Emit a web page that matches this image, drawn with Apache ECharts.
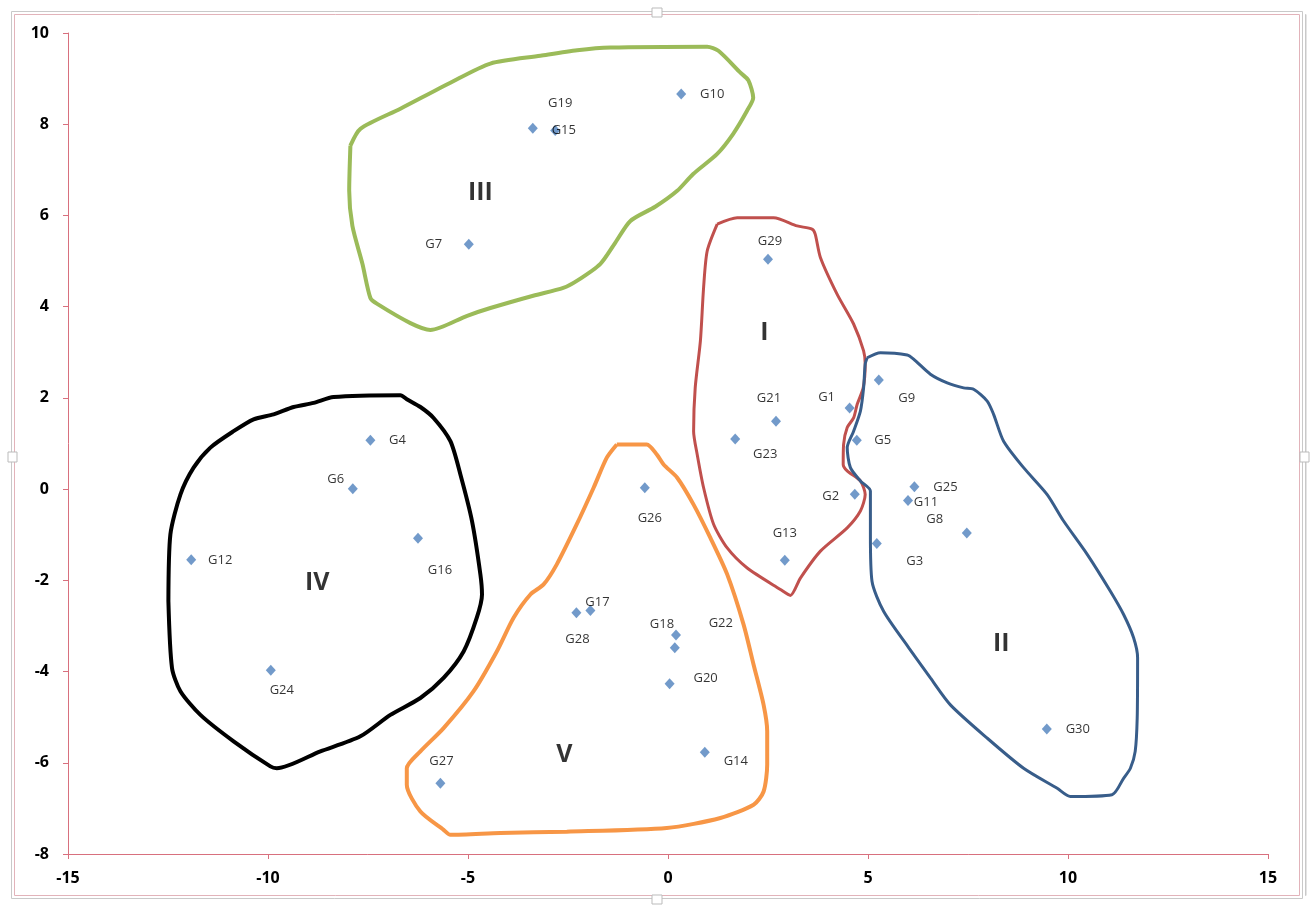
<!DOCTYPE html>
<html>
<head>
<meta charset="utf-8">
<script src="https://cdn.jsdelivr.net/npm/echarts@6/dist/echarts.min.js"></script>
<style>
  html,body{margin:0;padding:0;background:#fff;}
  #main{width:1316px;height:906px;}
</style>
</head>
<body>
<div id="main"></div>
<script>
// point names and coordinates
const names = ['G1','G2','G3','G4','G5','G6','G7','G8','G9','G10',
  'G11','G12','G13','G14','G15','G16','G17','G18','G19','G20',
  'G21','G22','G23','G24','G25','G26','G27','G28','G29','G30'];
const xs = [4.54, 4.67, 5.22, -7.44, 4.72, -7.88, -4.98, 7.47, 5.27, 0.33,
  6.0, -11.92, 2.92, 0.92, -3.38, -6.25, -1.94, 0.2, -2.82, 0.04,
  2.7, 0.17, 1.68, -9.93, 6.16, -0.58, -5.69, -2.29, 2.5, 9.47];
const ys = [1.78, -0.11, -1.19, 1.07, 1.07, 0.01, 5.37, -0.96, 2.39, 8.66,
  -0.25, -1.55, -1.56, -5.77, 7.91, -1.08, -2.66, -3.2, 7.86, -4.27,
  1.49, -3.48, 1.1, -3.97, 0.05, 0.03, -6.45, -2.71, 5.04, -5.26];

// cluster names and where their numerals sit
const groupNames = ['I','II','III','IV','V'];
const groupX = [2.41, 8.33, -4.69, -8.77, -2.59];
const groupY = [3.42, -3.4, 6.5, -2.06, -5.82];

// hand-drawn cluster outlines (data units)
const outlineI = [[1.23,5.81],[1.73,5.95],[2.64,5.95],[3.23,5.77],[3.6,5.7],[3.68,5.59],[3.81,5.08],[4.23,4.27],[4.64,3.62],[4.89,3.03],[4.93,2.74],[4.88,2.22],[4.73,1.86],[4.64,1.56],[4.48,1.35],[4.39,0.98],[4.38,0.54],[4.48,0.4],[4.81,0.18],[4.93,-0.12],[4.81,-0.48],[4.48,-0.85],[3.81,-1.36],[3.31,-1.95],[3.06,-2.33],[2.81,-2.2],[1.98,-1.73],[1.48,-1.29],[1.14,-0.77],[0.89,0.03],[0.73,0.76],[0.64,1.27],[0.68,2.22],[0.81,3.25],[0.89,4.42],[0.98,5.22],[1.23,5.81]];
const outlineII = [[4.98,2.88],[5.31,2.99],[5.98,2.94],[6.14,2.85],[6.56,2.52],[6.98,2.33],[7.39,2.22],[7.64,2.19],[7.98,1.93],[8.14,1.64],[8.39,1.05],[8.89,0.47],[9.48,-0.12],[9.89,-0.7],[10.48,-1.43],[11.06,-2.24],[11.39,-2.75],[11.64,-3.26],[11.74,-3.7],[11.73,-5.02],[11.68,-5.75],[11.56,-6.12],[11.39,-6.34],[11.1,-6.7],[10.06,-6.74],[9.73,-6.56],[8.89,-6.12],[7.98,-5.46],[7.06,-4.73],[6.56,-4.14],[6.02,-3.48],[5.39,-2.68],[5.1,-2.02],[5.06,-0.99],[5.06,-0.04],[4.81,0.18],[4.56,0.47],[4.48,0.91],[4.64,1.27],[4.81,1.71],[4.89,2.22],[4.93,2.74],[4.98,2.88]];
const outlineIII = [[-7.94,7.53],[-7.69,7.9],[-6.69,8.34],[-5.44,8.91],[-4.44,9.33],[-3.19,9.5],[-2.27,9.62],[-1.44,9.68],[0.98,9.7],[1.26,9.61],[1.81,9.13],[2.01,8.96],[2.13,8.58],[1.98,8.3],[1.63,7.79],[1.23,7.35],[0.63,6.91],[0.23,6.54],[-0.32,6.19],[-0.94,5.88],[-1.32,5.4],[-1.69,4.94],[-2.27,4.57],[-2.62,4.41],[-3.37,4.24],[-4.44,3.97],[-5.02,3.8],[-5.94,3.49],[-6.44,3.64],[-7.27,4.06],[-7.44,4.19],[-7.64,4.94],[-7.89,5.77],[-7.97,6.54],[-7.94,7.53]];
const outlineIV = [[-12.49,-2.46],[-12.44,-0.99],[-12.19,-0.12],[-11.86,0.47],[-11.44,0.91],[-10.86,1.27],[-10.36,1.53],[-9.86,1.64],[-9.36,1.8],[-8.86,1.89],[-8.36,2.02],[-6.69,2.06],[-6.53,1.97],[-6.19,1.8],[-5.86,1.56],[-5.44,1.05],[-5.19,0.32],[-4.9,-0.7],[-4.69,-1.87],[-4.65,-2.31],[-4.78,-2.82],[-5.11,-3.56],[-5.61,-4.14],[-6.19,-4.58],[-6.94,-4.95],[-7.69,-5.42],[-8.69,-5.75],[-9.78,-6.12],[-9.94,-6.08],[-10.86,-5.53],[-11.69,-4.95],[-12.19,-4.43],[-12.4,-3.92],[-12.49,-2.46]];
const outlineV = [[-1.28,0.98],[-0.53,0.98],[-0.28,0.76],[-0.11,0.54],[0.23,0.25],[0.64,-0.34],[1.06,-1.07],[1.48,-1.87],[1.89,-2.97],[2.14,-3.85],[2.39,-4.73],[2.48,-5.31],[2.48,-6.04],[2.39,-6.63],[2.14,-6.92],[1.31,-7.21],[-0.03,-7.43],[-2.53,-7.51],[-4.19,-7.54],[-5.44,-7.58],[-5.61,-7.47],[-6.19,-7.07],[-6.53,-6.48],[-6.53,-6.12],[-6.19,-5.75],[-5.61,-5.24],[-4.86,-4.43],[-4.28,-3.56],[-3.86,-2.82],[-3.44,-2.31],[-3.11,-2.09],[-2.78,-1.65],[-2.28,-0.77],[-1.86,0.03],[-1.53,0.69],[-1.28,0.98]];

// label offsets in pixels from each diamond
const labelOffset = {
  G1:[-23,-11], G2:[-24,2], G3:[38,18], G4:[27,0], G5:[26,0], G6:[-17,-9],
  G7:[-35,0], G8:[-32,-14], G9:[28,18], G10:[31,0], G11:[18,2], G12:[29,0],
  G13:[0,-27], G14:[31,9], G15:[31,2], G16:[22,32], G17:[7,-8], G18:[-14,-11],
  G19:[5,-27], G20:[36,-6], G21:[-7,-23], G22:[46,-25], G23:[30,15], G24:[11,20],
  G25:[31,0], G26:[5,31], G27:[1,-22], G28:[1,27], G29:[2,-18], G30:[31,0]
};

const chart = echarts.init(document.getElementById('main'), null, {renderer:'canvas'});
const axisRed = '#d8707e';
const font = '"Open Sans", Lato, sans-serif';

function outline(data, color, width){
  return {
    type:'line', data:data, symbol:'none', smooth:0.25, silent:true,
    lineStyle:{color:color, width:width}, z:2
  };
}

const points = names.map(function(n,i){
  return {
    name:n, value:[xs[i], ys[i]],
    label:{offset:labelOffset[n]}
  };
});

const option = {
  animation:false,
  backgroundColor:'#fff',
  grid:{left:68, right:48, top:33, bottom:52},
  xAxis:{
    type:'value', min:-15, max:15, interval:5,
    splitLine:{show:false},
    axisLine:{onZero:false, lineStyle:{color:axisRed, width:1}},
    axisTick:{show:true, length:5, lineStyle:{color:axisRed}},
    axisLabel:{color:'#000', fontSize:16, fontWeight:'bold', fontFamily:font, margin:16}
  },
  yAxis:{
    type:'value', min:-8, max:10, interval:2,
    splitLine:{show:false},
    axisLine:{show:true, onZero:false, lineStyle:{color:axisRed, width:1}},
    axisTick:{show:true, length:5, lineStyle:{color:axisRed}},
    axisLabel:{color:'#000', fontSize:16, fontWeight:'bold', fontFamily:font, margin:19}
  },
  graphic:[
    {type:'rect', shape:{x:11.5,y:11.5,width:1291,height:887}, style:{fill:null, stroke:'#c9c9c9', lineWidth:1}, silent:true},
    {type:'rect', shape:{x:14.5,y:14.5,width:1285,height:881}, style:{fill:null, stroke:'#e2b3ba', lineWidth:1}, silent:true},
    {type:'rect', shape:{x:1305.5,y:14.5,width:0.5,height:881}, style:{fill:null, stroke:'#c9c9c9', lineWidth:1}, silent:true},
    {type:'rect', shape:{x:652,y:8,width:10,height:9}, style:{fill:'#fff', stroke:'#bbb', lineWidth:1}, silent:true},
    {type:'rect', shape:{x:8,y:452,width:9,height:10}, style:{fill:'#fff', stroke:'#bbb', lineWidth:1}, silent:true},
    {type:'rect', shape:{x:1300,y:452,width:9,height:10}, style:{fill:'#fff', stroke:'#bbb', lineWidth:1}, silent:true},
    {type:'rect', shape:{x:652,y:895,width:10,height:9}, style:{fill:'#fff', stroke:'#bbb', lineWidth:1}, silent:true}
  ],
  series:[
    outline(outlineIII, '#9bbb59', 4),
    outline(outlineI, '#c0504d', 3),
    outline(outlineII, '#385d8a', 3),
    outline(outlineIV, '#000000', 4),
    outline(outlineV, '#f79646', 4),
    {
      type:'scatter', symbol:'diamond', symbolSize:[10,11], z:5,
      itemStyle:{color:'#4f81bd'},
      label:{show:true, position:'inside', formatter:'{b}', color:'#000',
        textBorderWidth:0, fontSize:13, fontFamily:font, align:'center', verticalAlign:'middle'},
      data:points
    },
    {
      type:'scatter', symbol:'circle', symbolSize:0, z:6, silent:true,
      label:{show:true, position:'inside', formatter:'{b}', color:'#000',
        textBorderWidth:0, fontSize:25, fontWeight:'bold', fontFamily:font},
      data:groupNames.map(function(n,i){ return {name:n, value:[groupX[i], groupY[i]]}; })
    }
  ]
};
chart.setOption(option);
</script>
</body>
</html>
